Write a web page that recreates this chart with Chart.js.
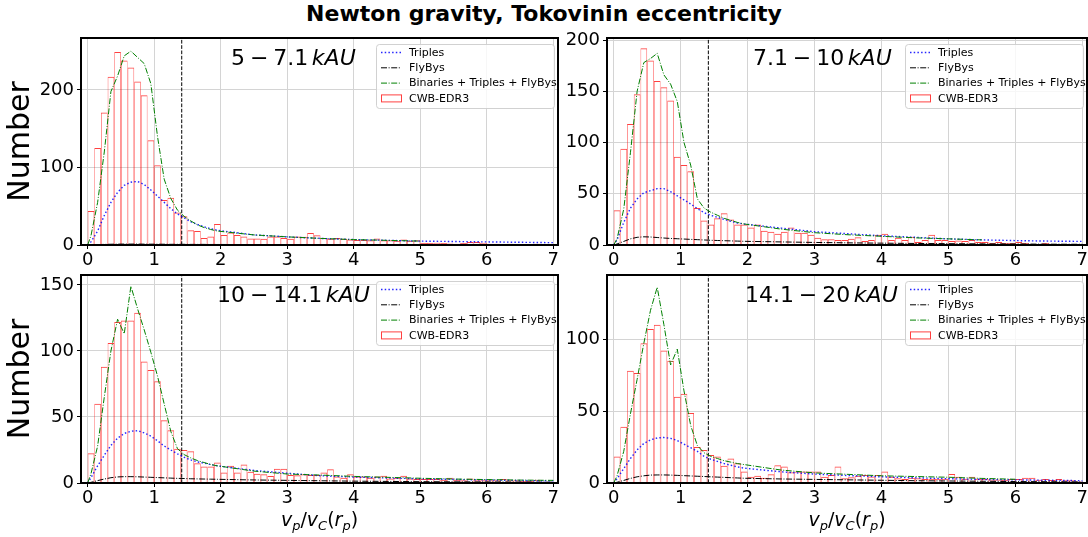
<!DOCTYPE html>
<html>
<head>
<meta charset="utf-8">
<script src="https://cdn.jsdelivr.net/npm/chart.js@4.4.1/dist/chart.umd.min.js"></script>
<style>
  body { margin: 0; background: #fff; width: 1088px; height: 537px; position: relative; overflow: hidden; }
  #title { position: absolute; top: 1px; left: 0; width: 1088px; text-align: center;
           font: bold 22px "DejaVu Sans"; color: #000; }
  canvas { position: absolute; }
</style>
</head>
<body>
<div id="title">Newton gravity, Tokovinin eccentricity</div>
<canvas id="c1" width="562" height="242" style="left:0;top:30px"></canvas>
<canvas id="c2" width="526" height="242" style="left:562px;top:30px"></canvas>
<canvas id="c3" width="562" height="265" style="left:0;top:272px"></canvas>
<canvas id="c4" width="526" height="265" style="left:562px;top:272px"></canvas>
<script>
// histogram bins (width 0.1), centres
const binCenters = [0.05, 0.15, 0.25, 0.35, 0.45, 0.55, 0.65, 0.75, 0.85, 0.95,
  1.05, 1.15, 1.25, 1.35, 1.45, 1.55, 1.65, 1.75, 1.85, 1.95,
  2.05, 2.15, 2.25, 2.35, 2.45, 2.55, 2.65, 2.75, 2.85, 2.95,
  3.05, 3.15, 3.25, 3.35, 3.45, 3.55, 3.65, 3.75, 3.85, 3.95,
  4.05, 4.15, 4.25, 4.35, 4.45, 4.55, 4.65, 4.75, 4.85, 4.95,
  5.05, 5.15, 5.25, 5.35, 5.45, 5.55, 5.65, 5.75, 5.85, 5.95,
  6.05, 6.15, 6.25, 6.35, 6.45, 6.55, 6.65, 6.75, 6.85, 6.95];

// CWB-EDR3 counts per bin
const cwb5to7 = [44, 125, 171, 217, 249, 238, 229, 211, 193, 135,
  103, 58, 61, 42, 37, 19, 18, 9, 11, 27,
  13, 16, 13, 11, 8.5, 8.5, 8, 11, 11, 9,
  8, 11, 10.7, 15.5, 12.5, 9, 8, 9, 8, 7,
  6.5, 6.5, 6, 8.5, 6, 6, 5.5, 7, 5.5, 6,
  2.5, 2.5, 3, 2.5, 2, 1.5, 2.5, 4, 4, 3,
  1.5, 1.5, 1, 1.5, 1, 0.5, 1, 1.5, 0.5, 1];
const cwb7to10 = [34, 94, 118, 147, 192, 180, 160, 154, 141, 86,
  78, 72, 36, 24, 20, 26, 31, 25, 20, 20,
  17, 20, 14, 13, 11, 13, 17, 12, 12, 10,
  7, 5.5, 5.5, 5, 5, 6, 7.5, 4, 5, 10,
  11, 5, 7, 5, 8, 3, 5, 10, 5, 5,
  4, 4.5, 4, 5, 3, 3, 2, 3, 2, 2,
  3, 2, 1, 1, 2, 1, 1, 1, 1, 0.5];
const cwb10to14 = [22.6, 60, 88, 106, 122, 123, 123, 129, 92, 85.5,
  77, 47.5, 40, 26, 25, 24, 15, 12.4, 12.4, 15.5,
  8, 13, 8, 14, 8.6, 7, 6.6, 5.3, 10.7, 10.7,
  6, 5.8, 6.6, 6, 6, 8, 10.4, 5, 4, 6.6,
  5, 5, 4, 5, 5.5, 3.5, 4, 5.5, 3.5, 3,
  3, 3, 3, 2.5, 4, 2.5, 2, 3.5, 2, 2,
  2, 2, 3, 2, 2, 1.5, 1.5, 2.5, 1, 1];
const cwb14to20 = [18.4, 39, 78, 76.5, 97, 107, 110, 92, 85, 60,
  62, 48.6, 25, 23, 19.5, 18.4, 12, 17, 13.7, 8,
  4.4, 5, 3.7, 6, 12.3, 11.4, 7.4, 8, 8, 8,
  8, 4.4, 5.6, 11.4, 3.3, 4, 5, 5.6, 4.6, 5.6,
  8, 4.4, 3.3, 2.8, 3.7, 3.3, 2.8, 3, 3, 3,
  6.3, 4.4, 3, 4.4, 3, 3, 2.5, 2.5, 2.3, 2.8,
  2.8, 3.7, 3.7, 2.3, 2.8, 2, 2.8, 1.9, 1.9, 1];

// model curves sampled at these x
const lineX = [0, 0.05, 0.15, 0.25, 0.35, 0.45, 0.55, 0.65, 0.75, 0.85, 0.95,
  1.05, 1.15, 1.25, 1.35, 1.45, 1.55, 1.65, 1.75, 1.85, 1.95,
  2.5, 3, 3.5, 4, 4.5, 5, 5.5, 6, 6.5, 7];

const triples5to7 = [0, 4, 18, 38, 55, 68, 77, 81, 82, 78, 71, 63, 55, 47, 40, 35, 30, 26.5, 23.5, 21, 19, 13, 10.5, 8.5, 7, 6, 5, 4.5, 4, 3.5, 3];
const triples7to10 = [0, 5, 22, 36, 45, 51, 53, 55, 55, 52, 48, 44, 40, 35.5, 31.5, 29, 27, 25, 23, 21.5, 20.5, 16.5, 13, 11, 9, 7.5, 6, 5, 4.3, 3.8, 3.5];
const triples10to14 = [0, 4, 13, 21, 28.5, 34, 37.5, 39.2, 39.6, 38, 35.5, 32, 28, 25, 22, 19.5, 17.5, 16, 15, 14, 13, 9.5, 7.4, 5.5, 4.5, 3.8, 3.2, 2.7, 2.3, 1.9, 1.6];
const triples14to20 = [0, 3, 10, 17, 23, 27.5, 30, 31.3, 31.6, 31, 29.5, 27, 24.5, 22, 18.5, 16.5, 15, 13.5, 12.3, 11.2, 10.3, 7.8, 6.2, 5.2, 4.3, 3.6, 3, 2.5, 2.2, 1.9, 1.6];

const flybys5to7 = [0, 0.2, 0.5, 0.8, 1, 1.1, 1.2, 1.2, 1.2, 1.1, 1.1, 1, 1, 0.9, 0.9, 0.9, 0.8, 0.8, 0.8, 0.7, 0.7, 0.6, 0.5, 0.5, 0.4, 0.4, 0.3, 0.3, 0.3, 0.2, 0.2];
const flybys7to10 = [0, 1, 3.5, 6, 7.5, 8, 7.8, 7.3, 6.8, 6.4, 6.1, 5.8, 5.5, 5.2, 4.9, 4.6, 4.4, 4.2, 4, 3.8, 3.6, 3, 2.5, 2.1, 1.8, 1.5, 1.3, 1.1, 1, 0.8, 0.7];
const flybys10to14 = [0, 0.5, 1.8, 3, 4, 4.6, 4.8, 4.8, 4.7, 4.5, 4.3, 4.1, 3.9, 3.7, 3.5, 3.4, 3.2, 3.1, 3, 2.9, 2.8, 2.3, 2, 1.7, 1.4, 1.2, 1, 0.9, 0.8, 0.7, 0.6];
const flybys14to20 = [0, 0.5, 1.8, 3.2, 4.3, 5, 5.5, 5.6, 5.6, 5.5, 5.3, 5.1, 4.9, 4.7, 4.5, 4.3, 4.1, 3.9, 3.7, 3.5, 3.3, 2.8, 2.5, 2.2, 1.9, 1.6, 1.4, 1.2, 1, 0.9, 0.8];

const total5to7 = [0, 12, 55, 120, 198, 218, 244, 250, 242, 234, 208, 140, 85, 60, 45, 37, 31, 26, 22.5, 20, 18, 13, 10.5, 8.5, 7, 6, 5, null, null, null, null];
const total7to10 = [0, 6, 35, 90, 150, 178, 182, 187, 166, 157, 140, 100, 78, 45, 36, 32, 29, 26, 24, 22, 20.5, 15.5, 12, 10, 8.5, 7, 6, 5, null, null, null];
const total10to14 = [0, 7, 28, 65, 100, 124, 113, 149, 132, 116, 99, 81, 60, 39, 26, 21.5, 19, 17, 15.5, 14, 13, 9, 6.8, 6, 5, 4.3, 3.6, 3, 2.6, 2.2, 2];
const total14to20 = [0, 5, 22, 48, 72, 97, 120, 136, 110, 82, 93, 64, 40, 26, 21, 18.5, 17, 15.5, 14.5, 13.5, 12.8, 9, 7, 6, 5, 4.5, 4, 3.2, 2.6, null, null];

const xTicks = [0, 1, 2, 3, 4, 5, 6, 7];
const yTicks5to7 = [0, 100, 200];
const yTicks7to10 = [0, 50, 100, 150, 200];
const yTicks10to14 = [0, 50, 100, 150];
const yTicks14to20 = [0, 50, 100];

const rangeLo = ['5', '7.1', '10', '14.1'];
const rangeHi = ['7.1', '10', '14.1', '20'];
const legendLabels = ['Triples', 'FlyBys', 'Binaries + Triples + FlyBys', 'CWB-EDR3'];
const vLineX = 1.414; // sqrt(2)

const FONT = '"DejaVu Sans"';
Chart.defaults.font.family = 'DejaVu Sans';

const lineStyles = [
  { color: 'rgba(0,0,255,0.85)', dash: [1.5, 2.2], width: 1.4 },
  { color: '#000', dash: [6, 1.6, 1, 1.6], width: 1 },
  { color: 'green', dash: [6, 1.6, 1, 1.6], width: 1 }
];
const barEdge = 'rgba(255,0,0,0.75)';

const panels = [
  { id: 'c1', k: 0, cwb: cwb5to7, tri: triples5to7, fly: flybys5to7, tot: total5to7, yMax: 267, yTicks: yTicks5to7,
    pad: { top: 8, right: 4, left: 0, bottom: 0 }, yW: 81, xH: 27, yTitle: true, xTitle: false, labelDx: 150 },
  { id: 'c2', k: 1, cwb: cwb7to10, tri: triples7to10, fly: flybys7to10, tot: total7to10, yMax: 202, yTicks: yTicks7to10,
    pad: { top: 8, right: 1, left: 0, bottom: 0 }, yW: 45, xH: 27, yTitle: false, xTitle: false, labelDx: 146 },
  { id: 'c3', k: 2, cwb: cwb10to14, tri: triples10to14, fly: flybys10to14, tot: total10to14, yMax: 157.5, yTicks: yTicks10to14,
    pad: { top: 3, right: 4, left: 0, bottom: 0 }, yW: 81, xH: 54, yTitle: true, xTitle: true, labelDx: 136 },
  { id: 'c4', k: 3, cwb: cwb14to20, tri: triples14to20, fly: flybys14to20, tot: total14to20, yMax: 144.5, yTicks: yTicks14to20,
    pad: { top: 3, right: 1, left: 0, bottom: 0 }, yW: 45, xH: 54, yTitle: false, xTitle: true, labelDx: 138 }
];

function drawLegend(ctx, area) {
  const w = 178, h = 64;
  const x0 = Math.round(area.right - 4 - w), y0 = Math.round(area.top + 6);
  ctx.save();
  ctx.beginPath();
  ctx.roundRect(x0 + 0.5, y0 + 0.5, w, h, 3);
  ctx.fillStyle = 'rgba(255,255,255,0.8)';
  ctx.fill();
  ctx.strokeStyle = 'rgba(204,204,204,0.9)';
  ctx.lineWidth = 1;
  ctx.stroke();
  legendLabels.forEach((txt, i) => {
    const cy = y0 + 8.5 + i * 15.3;
    if (i < 3) {
      const s = lineStyles[i];
      ctx.setLineDash(s.dash);
      ctx.strokeStyle = s.color;
      ctx.lineWidth = s.width;
      ctx.beginPath();
      ctx.moveTo(x0 + 5, cy);
      ctx.lineTo(x0 + 25, cy);
      ctx.stroke();
    } else {
      ctx.setLineDash([]);
      ctx.strokeStyle = barEdge;
      ctx.lineWidth = 1;
      ctx.strokeRect(x0 + 5.5, cy - 3.5, 20, 7);
    }
    ctx.fillStyle = '#000';
    ctx.font = '11px ' + FONT;
    ctx.textBaseline = 'middle';
    ctx.textAlign = 'left';
    ctx.fillText(txt, x0 + 33, cy + 0.5);
  });
  ctx.restore();
}

function drawXTitle(ctx, area, baseline) {
  const parts = [
    { t: 'v', it: 1 }, { t: 'p', it: 1, sub: 1 }, { t: '/' },
    { t: 'v', it: 1 }, { t: 'C', it: 1, sub: 1 }, { t: '(' },
    { t: 'r', it: 1 }, { t: 'p', it: 1, sub: 1 }, { t: ')' }
  ];
  const fontOf = p => (p.it ? 'italic ' : '') + (p.sub ? '13px ' : '19px ') + FONT;
  ctx.save();
  let total = 0;
  parts.forEach(p => { ctx.font = fontOf(p); p.w = ctx.measureText(p.t).width; total += p.w; });
  let x = (area.left + area.right) / 2 - total / 2;
  ctx.fillStyle = '#000';
  ctx.textBaseline = 'alphabetic';
  ctx.textAlign = 'left';
  parts.forEach(p => {
    ctx.font = fontOf(p);
    ctx.fillText(p.t, x, baseline + (p.sub ? 4 : 0));
    x += p.w;
  });
  ctx.restore();
}

// "lo − hi kAU" with mathtext-like spacing
function drawRange(ctx, area, lo, hi, dx) {
  const size = 22;
  ctx.save();
  ctx.fillStyle = '#000';
  ctx.textBaseline = 'alphabetic';
  ctx.textAlign = 'left';
  let x = area.left + dx;
  const y = area.top + 27;
  ctx.font = size + 'px ' + FONT;
  ctx.fillText(lo, x, y);
  x += ctx.measureText(lo).width + 0.222 * size;
  ctx.fillText('\u2212', x, y);
  x += ctx.measureText('\u2212').width + 0.222 * size;
  ctx.fillText(hi, x, y);
  x += ctx.measureText(hi).width + 0.167 * size;
  ctx.font = 'italic ' + size + 'px ' + FONT;
  ctx.fillText('kAU', x, y);
  ctx.restore();
}

panels.forEach(p => {
  const deco = {
    id: 'deco' + p.id,
    afterDraw(chart) {
      const ctx = chart.ctx, a = chart.chartArea;
      drawRange(ctx, a, rangeLo[p.k], rangeHi[p.k], p.labelDx);
      drawLegend(ctx, a);
      ctx.save();
      ctx.strokeStyle = '#000';
      ctx.lineWidth = 2;
      ctx.setLineDash([]);
      ctx.strokeRect(a.left, a.top, a.right - a.left, a.bottom - a.top);
      ctx.restore();
      if (p.xTitle) drawXTitle(ctx, a, chart.height - 11);
    }
  };

  const toPts = arr => lineX.map((x, i) => ({ x: x, y: arr[i] }));
  const lineDs = (label, arr, s, order) => ({
    type: 'line', label: label, data: toPts(arr), borderColor: s.color, borderDash: s.dash,
    borderWidth: s.width, pointRadius: 0, tension: 0, fill: false, spanGaps: false, order: order
  });

  new Chart(document.getElementById(p.id), {
    type: 'bar',
    data: {
      datasets: [
        lineDs(legendLabels[2], p.tot, lineStyles[2], 1),
        lineDs(legendLabels[0], p.tri, lineStyles[0], 2),
        lineDs(legendLabels[1], p.fly, lineStyles[1], 3),
        {
          type: 'line', label: 'sqrt2', data: [{ x: vLineX, y: 0 }, { x: vLineX, y: p.yMax }],
          borderColor: '#000', borderDash: [3.7, 1.6], borderWidth: 1, pointRadius: 0, order: 4
        },
        {
          type: 'bar', label: legendLabels[3], data: binCenters.map((x, i) => ({ x: x, y: p.cwb[i] })),
          backgroundColor: 'rgba(0,0,0,0)', borderColor: barEdge,
          borderWidth: { left: 0.6, right: 0.6, top: 1, bottom: 0 }, borderSkipped: false,
          barPercentage: 1, categoryPercentage: 1, inflateAmount: 0, order: 5
        }
      ]
    },
    options: {
      responsive: false,
      animation: false,
      devicePixelRatio: 1,
      layout: { padding: p.pad },
      plugins: { legend: { display: false }, tooltip: { enabled: false } },
      scales: {
        x: {
          type: 'linear', min: -0.1, max: 7.07, offset: false,
          grid: { color: '#d4d4d4', offset: false, tickColor: '#000', tickLength: 4 },
          border: { display: false },
          ticks: { color: '#000', font: { size: 18 }, padding: 1, maxRotation: 0, autoSkip: false },
          afterBuildTicks: s => { s.ticks = xTicks.map(v => ({ value: v })); },
          afterFit: s => { s.height = p.xH; s.paddingLeft = 0; s.paddingRight = 0; }
        },
        y: {
          type: 'linear', min: 0, max: p.yMax,
          grid: { color: '#d4d4d4', tickColor: '#000', tickLength: 4 },
          border: { display: false },
          ticks: { color: '#000', font: { size: 18 }, padding: 3 },
          title: { display: p.yTitle, text: 'Number', color: '#000', font: { size: 30, lineHeight: 1 }, padding: { top: 6, bottom: 0 } },
          afterBuildTicks: s => { s.ticks = p.yTicks.map(v => ({ value: v })); },
          afterFit: s => { s.width = p.yW; s.paddingTop = 0; s.paddingBottom = 0; }
        }
      }
    },
    plugins: [deco]
  });
});
</script>
</body>
</html>
